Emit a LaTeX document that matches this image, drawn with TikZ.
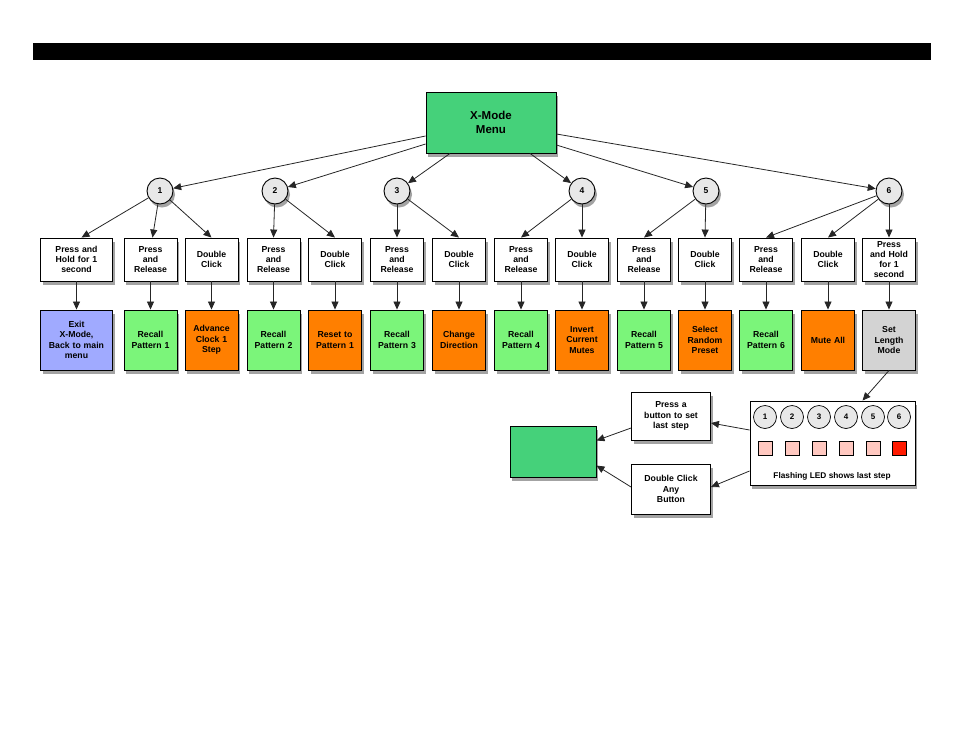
\documentclass[tikz,border=0pt]{standalone}
\usepackage{fontspec}
\setmainfont{Liberation Sans}
\usetikzlibrary{shadows,calc,arrows.meta}
\definecolor{menugreen}{HTML}{45D17A}
\definecolor{litegreen}{HTML}{7BF57A}
\definecolor{orng}{HTML}{FF7F00}
\definecolor{lblue}{HTML}{A0AAFF}
\definecolor{lgrey}{HTML}{D3D3D3}
\definecolor{cgrey}{HTML}{E8E8E8}
\definecolor{pink}{HTML}{FFC8C0}
\definecolor{ledred}{HTML}{FF1A00}
\tikzset{
  shad/.style={drop shadow={shadow xshift=2pt,shadow yshift=-3.5pt,opacity=0.45,fill=black!80}},
  base/.style={draw,line width=0.9pt,shad,align=center,inner sep=1pt,font=\fontsize{8.7}{10.3}\selectfont\bfseries},
  act/.style={base,fill=white,minimum width=52pt,minimum height=43pt,text width=51pt},
  res/.style={base,minimum width=52pt,minimum height=60pt,text width=51pt},
  num/.style={circle,draw,line width=0.9pt,fill=cgrey,minimum size=26pt,inner sep=0pt,shad,font=\fontsize{8.5}{10}\selectfont\bfseries},
  ledc/.style={circle,draw,line width=0.7pt,fill=cgrey,minimum size=23pt,inner sep=0pt,font=\fontsize{8}{10}\selectfont\bfseries},
  leds/.style={draw,line width=0.7pt,minimum size=14pt,inner sep=0pt},
  arr/.style={-{Triangle[length=8pt,width=7pt]},line width=0.8pt,draw=black!85}
}
\begin{document}
\begin{tikzpicture}[x=1pt,y=-1pt]
\useasboundingbox (0,0) rectangle (954,737);
\fill[black] (33,43) rectangle (931,60);
% menu
\node[base,fill=menugreen,minimum width=130pt,minimum height=61pt,font=\fontsize{11.5}{14}\selectfont\bfseries] (menu) at (491,122.5) {X-Mode\\Menu};
% circles
\node[num] (c1) at (160,191) {1};
\node[num] (c2) at (275,191) {2};
\node[num] (c3) at (397,191) {3};
\node[num] (c4) at (582,191) {4};
\node[num] (c5) at (706,191) {5};
\node[num] (c6) at (889,191) {6};
% action boxes
\node[act,minimum width=71pt,text width=70pt] (a1) at (76.5,259.5) {Press and\\Hold for 1\\second};
\node[act] (a2) at (150.5,259.5) {Press\\and\\Release};
\node[act] (a3) at (211.5,259.5) {Double\\Click};
\node[act] (a4) at (273.5,259.5) {Press\\and\\Release};
\node[act] (a5) at (335,259.5) {Double\\Click};
\node[act] (a6) at (397,259.5) {Press\\and\\Release};
\node[act] (a7) at (459,259.5) {Double\\Click};
\node[act] (a8) at (521,259.5) {Press\\and\\Release};
\node[act] (a9) at (582,259.5) {Double\\Click};
\node[act] (a10) at (644,259.5) {Press\\and\\Release};
\node[act] (a11) at (705,259.5) {Double\\Click};
\node[act] (a12) at (766,259.5) {Press\\and\\Release};
\node[act] (a13) at (828,259.5) {Double\\Click};
\node[act] (a14) at (889,259.5) {Press\\and Hold\\for 1\\second};
% result boxes
\node[res,fill=lblue,minimum width=71pt,text width=70pt] (r1) at (76.5,340) {Exit\\X-Mode,\\Back to main\\menu};
\node[res,fill=litegreen] (r2) at (150.5,340) {Recall\\Pattern 1};
\node[res,fill=orng] (r3) at (211.5,340) {Advance\\Clock 1\\Step};
\node[res,fill=litegreen] (r4) at (273.5,340) {Recall\\Pattern 2};
\node[res,fill=orng] (r5) at (335,340) {Reset to\\Pattern 1};
\node[res,fill=litegreen] (r6) at (397,340) {Recall\\Pattern 3};
\node[res,fill=orng] (r7) at (459,340) {Change\\Direction};
\node[res,fill=litegreen] (r8) at (521,340) {Recall\\Pattern 4};
\node[res,fill=orng] (r9) at (582,340) {Invert\\Current\\Mutes};
\node[res,fill=litegreen] (r10) at (644,340) {Recall\\Pattern 5};
\node[res,fill=orng] (r11) at (705,340) {Select\\Random\\Preset};
\node[res,fill=litegreen] (r12) at (766,340) {Recall\\Pattern 6};
\node[res,fill=orng] (r13) at (828,340) {Mute All};
\node[res,fill=lgrey] (r14) at (889,340) {Set\\Length\\Mode};
% panel
\node[base,fill=white,minimum width=165pt,minimum height=84pt] (panel) at (832.5,443) {};
\node[ledc] (l1) at (765,417) {1};
\node[ledc] (l2) at (792,417) {2};
\node[ledc] (l3) at (819,417) {3};
\node[ledc] (l4) at (846,417) {4};
\node[ledc] (l5) at (873,417) {5};
\node[ledc] (l6) at (899,417) {6};
\node[leds,fill=pink] (s1) at (765,448) {};
\node[leds,fill=pink] (s2) at (792,448) {};
\node[leds,fill=pink] (s3) at (819,448) {};
\node[leds,fill=pink] (s4) at (846,448) {};
\node[leds,fill=pink] (s5) at (873,448) {};
\node[leds,fill=ledred] (s6) at (899,448) {};
\node[font=\fontsize{8.3}{10}\selectfont\bfseries,inner sep=0pt] (ptext) at (832,476) {Flashing LED shows last step};
\node[base,fill=white,minimum width=78pt,minimum height=48pt,text width=77pt] (press) at (671,416) {Press a\\button to set\\last step};
\node[base,fill=white,minimum width=78pt,minimum height=50pt,text width=77pt] (dbl) at (671,489) {Double Click\\Any\\Button};
\node[base,fill=menugreen,minimum width=86pt,minimum height=51pt] (green) at (553,451.5) {};
% arrows menu -> circles
\draw[arr] ($(menu.west)+(0,13.5)$) -- (c1);
\draw[arr] ($(menu.west)+(0,21.5)$) -- (c2);
\draw[arr] ($(menu.south)+(-41,0)$) -- (c3);
\draw[arr] ($(menu.south)+(39,0)$) -- (c4);
\draw[arr] ($(menu.east)+(0,22.5)$) -- (c5);
\draw[arr] ($(menu.east)+(0,11.5)$) -- (c6);
% circles -> actions
\draw[arr] (c1) -- ($(a1.north)+(5,0)$);
\draw[arr] (c1) -- ($(a2.north)+(2,0)$);
\draw[arr] (c1) -- (a3.north);
\draw[arr] (c2) -- (a4.north);
\draw[arr] (c2) -- (a5.north);
\draw[arr] (c3) -- (a6.north);
\draw[arr] (c3) -- (a7.north);
\draw[arr] (c4) -- (a8.north);
\draw[arr] (c4) -- (a9.north);
\draw[arr] (c5) -- (a10.north);
\draw[arr] (c5) -- (a11.north);
\draw[arr] (c6) -- (a12.north);
\draw[arr] (c6) -- (a13.north);
\draw[arr] (c6) -- (a14.north);
% actions -> results
\foreach \i in {1,...,14} { \draw[arr] (a\i.south) -- (r\i.north); }
% set length mode chain
\draw[arr] (r14.south) -- ($(panel.north)+(30,0)$);
\draw[arr] ($(panel.west)+(0,-13)$) -- ($(press.east)+(0,7)$);
\draw[arr] ($(panel.west)+(0,28)$) -- ($(dbl.east)+(0,-2)$);
\draw[arr] ($(press.west)+(0,12)$) -- ($(green.east)+(0,-11)$);
\draw[arr] ($(dbl.west)+(0,-2)$) -- ($(green.east)+(0,14)$);
\end{tikzpicture}
\end{document}
